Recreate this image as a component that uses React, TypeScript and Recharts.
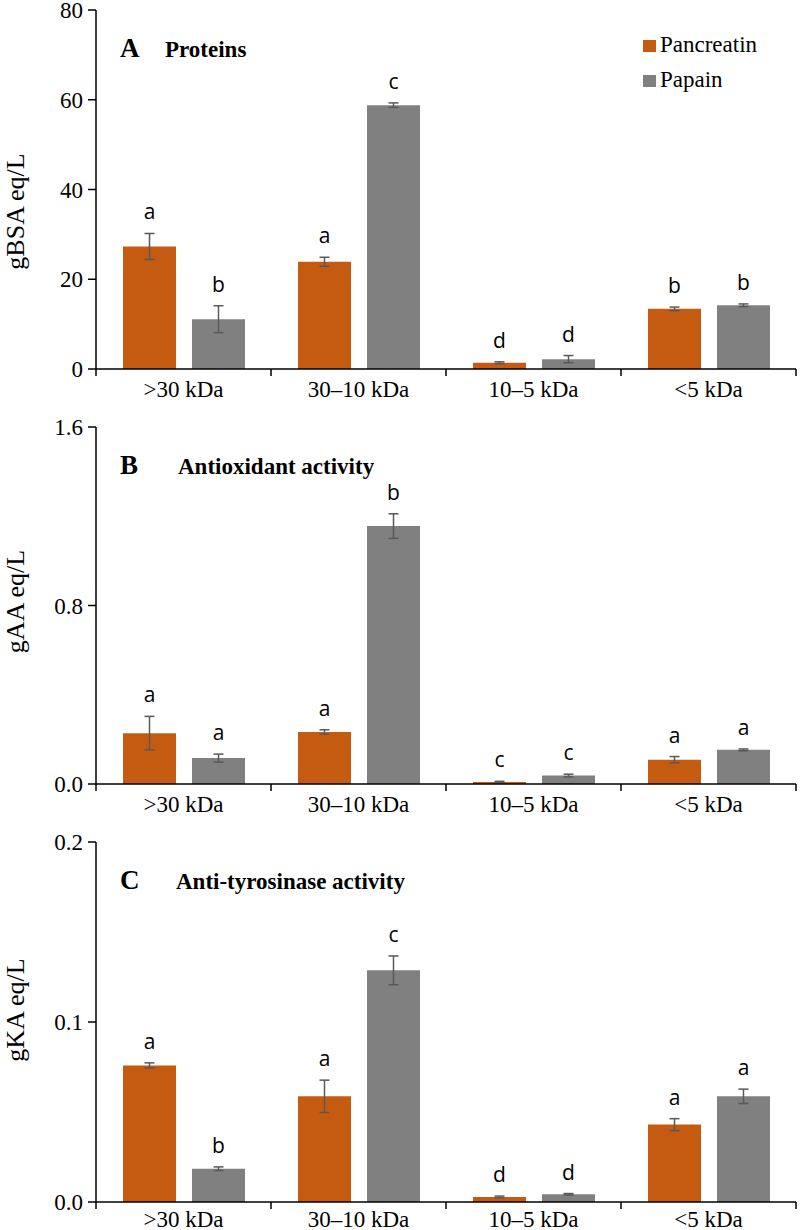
import { BarChart, Bar, XAxis, YAxis, ErrorBar, LabelList } from "recharts";

const SERIF = "Liberation Serif, Times New Roman, serif";
const SANS = "Open Sans, sans-serif";
const ORANGE = "#C55A11";
const GREY = "#808080";
const ERR = "#595959";

const CATEGORIES = [">30 kDa", "30–10 kDa", "10–5 kDa", "<5 kDa"];

// A - proteins (gBSA eq/L)
const PROT_PAN = [27.3, 23.9, 1.4, 13.4];
const PROT_PAN_SD = [2.9, 1.0, 0.2, 0.4];
const PROT_PAP = [11.1, 58.8, 2.2, 14.2];
const PROT_PAP_SD = [3.0, 0.5, 0.8, 0.3];
const PROT_PAN_LET = ["a", "a", "d", "b"];
const PROT_PAP_LET = ["b", "c", "d", "b"];
const PROT_TICKS = [0, 20, 40, 60, 80];

// B - antioxidant (gAA eq/L)
const AOX_PAN = [0.228, 0.233, 0.009, 0.109];
const AOX_PAN_SD = [0.075, 0.01, 0.003, 0.014];
const AOX_PAP = [0.116, 1.156, 0.038, 0.153];
const AOX_PAP_SD = [0.018, 0.055, 0.006, 0.004];
const AOX_PAN_LET = ["a", "a", "c", "a"];
const AOX_PAP_LET = ["a", "b", "c", "a"];
const AOX_TICKS = [0, 0.8, 1.6];

// C - anti-tyrosinase (gKA eq/L)
const TYR_PAN = [0.0759, 0.0587, 0.0028, 0.043];
const TYR_PAN_SD = [0.0014, 0.009, 0.0005, 0.0033];
const TYR_PAP = [0.0185, 0.1287, 0.0043, 0.0587];
const TYR_PAP_SD = [0.001, 0.008, 0.0004, 0.004];
const TYR_PAN_LET = ["a", "a", "d", "a"];
const TYR_PAP_LET = ["b", "c", "d", "a"];
const TYR_TICKS = [0, 0.1, 0.2];

function buildRows(pan: number[], panSd: number[], pap: number[], papSd: number[]) {
  return CATEGORIES.map((name, i) => ({
    name,
    pan: pan[i],
    panSd: panSd[i],
    pap: pap[i],
    papSd: papSd[i],
  }));
}

function makeCatTick(labelDy: number) {
  return (props: any) => {
    const { x, y, payload, index } = props;
    const half = payload && payload.offset ? payload.offset : 87.5;
    return (
      <g>
        <line x1={x - half} y1={y} x2={x - half} y2={y + 7} stroke="#000" strokeWidth={1.5} />
        {index === CATEGORIES.length - 1 && (
          <line x1={x + half} y1={y} x2={x + half} y2={y + 7} stroke="#000" strokeWidth={1.5} />
        )}
        <text x={x} y={y + labelDy} textAnchor="middle" style={{ fontFamily: SERIF, fontSize: 23 }} fill="#000">
          {payload.value}
        </text>
      </g>
    );
  };
}

function YTick(props: any) {
  const { x, y, payload, digits } = props;
  return (
    <text x={x} y={y + 8} textAnchor="end" style={{ fontFamily: SERIF, fontSize: 23 }} fill="#000">
      {Number(payload.value).toFixed(digits)}
    </text>
  );
}

function letterContent(letters: string[], errs: number[], pxPerUnit: number) {
  return (props: any) => {
    const vb = props.viewBox || props;
    const x = vb.x ?? props.x;
    const y = vb.y ?? props.y;
    const w = vb.width ?? props.width;
    const i = props.index;
    const top = y - errs[i] * pxPerUnit;
    return (
      <text x={x + w / 2} y={top - 14} textAnchor="middle" style={{ fontFamily: SANS, fontSize: 21 }} fill="#000">
        {letters[i]}
      </text>
    );
  };
}

type PanelProps = {
  top: number;
  height: number;
  mt: number;
  ph: number;
  max: number;
  ticks: number[];
  digits: number;
  yLabel: string;
  yShift: number;
  letter: string;
  title: string;
  titleX: number;
  labelDy: number;
  rows: any[];
  panLet: string[];
  papLet: string[];
  panSd: number[];
  papSd: number[];
  legend?: boolean;
};

function Panel(p: PanelProps) {
  const ppu = p.ph / p.max;
  const cy = p.mt + p.ph / 2 + p.yShift;
  const CatTick = makeCatTick(p.labelDy);
  return (
    <div style={{ position: "absolute", left: 0, top: p.top, width: 800, height: p.height }}>
      <BarChart
        width={800}
        height={p.height}
        data={p.rows}
        margin={{ top: p.mt, right: 4, bottom: 0, left: 0 }}
        barCategoryGap={27}
        barGap={16}
      >
        <XAxis
          dataKey="name"
          height={p.height - p.mt - p.ph}
          tickLine={false}
          tickSize={0}
          tickMargin={0}
          axisLine={{ stroke: "#000", strokeWidth: 1.5 }}
          tick={<CatTick />}
          interval={0}
        />
        <XAxis xAxisId="top" orientation="top" dataKey="name" height={0} tick={false} tickLine={false} axisLine={{ stroke: "#000", strokeWidth: 1.5 }} />
        <YAxis
          width={96}
          domain={[0, p.max]}
          ticks={p.ticks}
          interval={0}
          tick={<YTick digits={p.digits} />}
          tickSize={8}
          tickMargin={5}
          tickLine={{ stroke: "#000", strokeWidth: 1.5 }}
          axisLine={{ stroke: "#000", strokeWidth: 1.5 }}
          label={{
            content: () => (
              <text x={24} y={cy} transform={`rotate(-90 24 ${cy})`} textAnchor="middle" style={{ fontFamily: SERIF, fontSize: 26 }} fill="#000">
                {p.yLabel}
              </text>
            ),
          }}
        />
        <YAxis yAxisId="right" orientation="right" width={0} domain={[0, 1]} tick={false} tickLine={false} axisLine={{ stroke: "#000", strokeWidth: 1.5 }} />
        <Bar dataKey="pan" fill={ORANGE} isAnimationActive={false}>
          <ErrorBar dataKey="panSd" width={5} stroke={ERR} strokeWidth={1.5} direction="y" />
          <LabelList dataKey="pan" content={letterContent(p.panLet, p.panSd, ppu)} />
        </Bar>
        <Bar dataKey="pap" fill={GREY} isAnimationActive={false}>
          <ErrorBar dataKey="papSd" width={5} stroke={ERR} strokeWidth={1.5} direction="y" />
          <LabelList dataKey="pap" content={letterContent(p.papLet, p.papSd, ppu)} />
        </Bar>
      </BarChart>
      <svg width={800} height={p.height} style={{ position: "absolute", left: 0, top: 0, pointerEvents: "none" }}>
        <text x={120} y={p.mt + 47} style={{ fontFamily: SERIF, fontWeight: "bold", fontSize: 27 }} fill="#000">
          {p.letter}
        </text>
        <text x={p.titleX} y={p.mt + 47} style={{ fontFamily: SERIF, fontWeight: "bold", fontSize: 23 }} fill="#000">
          {p.title}
        </text>
        {p.legend && (
          <g>
            <rect x={643} y={p.mt + 30} width={13} height={12} fill={ORANGE} />
            <text x={660} y={p.mt + 42} style={{ fontFamily: SERIF, fontSize: 23 }} fill="#000">Pancreatin</text>
            <rect x={643} y={p.mt + 65} width={13} height={12} fill={GREY} />
            <text x={660} y={p.mt + 77} style={{ fontFamily: SERIF, fontSize: 23 }} fill="#000">Papain</text>
          </g>
        )}
      </svg>
    </div>
  );
}

export default function App() {
  return (
    <div style={{ position: "absolute", left: 0, top: 0, width: 800, height: 1230, background: "#fff", overflow: "hidden" }}>
      <Panel
        top={0}
        height={410}
        mt={10}
        ph={359}
        max={80}
        ticks={PROT_TICKS}
        digits={0}
        yLabel="gBSA eq/L"
        yShift={22}
        letter="A"
        title="Proteins"
        titleX={165}
        labelDy={28}
        rows={buildRows(PROT_PAN, PROT_PAN_SD, PROT_PAP, PROT_PAP_SD)}
        panLet={PROT_PAN_LET}
        papLet={PROT_PAP_LET}
        panSd={PROT_PAN_SD}
        papSd={PROT_PAP_SD}
        legend
      />
      <Panel
        top={410}
        height={415}
        mt={17}
        ph={357}
        max={1.6}
        ticks={AOX_TICKS}
        digits={1}
        yLabel="gAA eq/L"
        yShift={-4}
        letter="B"
        title="Antioxidant activity"
        titleX={178}
        labelDy={28}
        rows={buildRows(AOX_PAN, AOX_PAN_SD, AOX_PAP, AOX_PAP_SD)}
        panLet={AOX_PAN_LET}
        papLet={AOX_PAP_LET}
        panSd={AOX_PAN_SD}
        papSd={AOX_PAP_SD}
      />
      <Panel
        top={825}
        height={405}
        mt={17}
        ph={360}
        max={0.2}
        ticks={TYR_TICKS}
        digits={1}
        yLabel="gKA eq/L"
        yShift={-12}
        letter="C"
        title="Anti-tyrosinase activity"
        titleX={176}
        labelDy={25}
        rows={buildRows(TYR_PAN, TYR_PAN_SD, TYR_PAP, TYR_PAP_SD)}
        panLet={TYR_PAN_LET}
        papLet={TYR_PAP_LET}
        panSd={TYR_PAN_SD}
        papSd={TYR_PAP_SD}
      />
    </div>
  );
}
